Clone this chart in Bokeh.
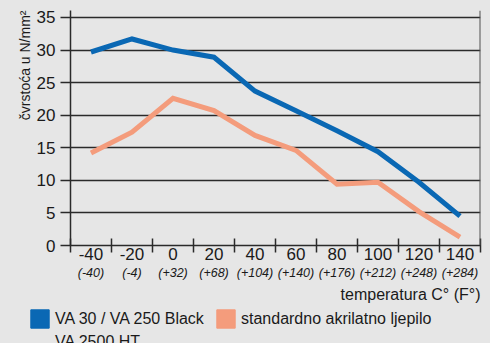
from bokeh.plotting import figure
from bokeh.layouts import column
from bokeh.models import (FixedTicker, LinearAxis, Span, Legend, LegendItem,
                          ColumnDataSource, Title)
from bokeh.embed import file_html
from bokeh.resources import INLINE

# ---- data ----
temps_c = [-40, -20, 0, 20, 40, 60, 80, 100, 120, 140]
temps_c_labels = ["-40", "-20", "0", "20", "40", "60", "80", "100", "120", "140"]
temps_f_labels = ["(-40)", "(-4)", "(+32)", "(+68)", "(+104)", "(+140)",
                  "(+176)", "(+212)", "(+248)", "(+284)"]
va30_strength = [29.7, 31.7, 30.0, 28.9, 23.7, 20.7, 17.6, 14.4, 9.7, 4.5]
acrylic_strength = [14.2, 17.4, 22.6, 20.7, 16.9, 14.6, 9.4, 9.7, 5.2, 1.3]
y_ticks = [0, 5, 10, 15, 20, 25, 30, 35]
series_names = ["VA 30 / VA 250 Black", "VA 2500 HT", "standardno akrilatno ljepilo"]
y_label = "čvrstoća u N/mm²"
x_label = "temperatura C° (F°)"

BG = "#e6e6e6"
BLUE = "#0a68b4"
ORANGE = "#f49c7c"
INK = "#1a1a1a"
GRID = "#2a2a2a"
FONT = "Liberation Sans"

step = temps_c[1] - temps_c[0]
boundaries = [t - step / 2 for t in temps_c] + [temps_c[-1] + step / 2]

p = figure(width=490, height=305,
           x_range=(boundaries[0], boundaries[-1]), y_range=(0, 36.07),
           output_backend="svg", toolbar_location=None,
           background_fill_color=BG, border_fill_color=BG,
           min_border_left=70, min_border_right=10, min_border_top=10,
           min_border_bottom=60, outline_line_color=None)

# y axis
p.yaxis.ticker = FixedTicker(ticks=y_ticks)
p.yaxis.major_tick_out = 10
p.yaxis.major_tick_in = 0
p.yaxis.minor_tick_line_color = None
p.yaxis.major_tick_line_color = GRID
p.yaxis.major_tick_line_width = 1.5
p.yaxis.axis_line_color = GRID
p.yaxis.axis_line_width = 1.5
p.yaxis.major_label_standoff = 5
p.yaxis.major_label_text_font = FONT
p.yaxis.major_label_text_font_size = "17px"
p.yaxis.major_label_text_color = INK

p.ygrid.ticker = FixedTicker(ticks=y_ticks)
p.ygrid.grid_line_color = GRID
p.ygrid.grid_line_width = 1.5
p.xgrid.grid_line_color = None

# x axis: C labels, boundary ticks as minor ticks
xa = p.xaxis[0]
xa.ticker = FixedTicker(ticks=temps_c, minor_ticks=boundaries)
xa.major_label_overrides = {t: s for t, s in zip(temps_c, temps_c_labels)}
xa.major_tick_line_color = None
xa.major_tick_in = 0
xa.major_tick_out = 0
xa.minor_tick_in = 7
xa.minor_tick_out = 7
xa.minor_tick_line_color = GRID
xa.minor_tick_line_width = 1.5
xa.axis_line_color = GRID
xa.axis_line_width = 1.5
xa.major_label_standoff = -5
xa.major_label_text_font = FONT
xa.major_label_text_font_size = "17px"
xa.major_label_text_color = INK

# second x axis: Fahrenheit labels
fa = LinearAxis(ticker=FixedTicker(ticks=temps_c),
                major_label_overrides={t: s for t, s in zip(temps_c, temps_f_labels)},
                axis_line_color=None, major_tick_line_color=None,
                minor_tick_line_color=None, major_tick_out=0, major_tick_in=0,
                major_label_standoff=3,
                major_label_text_font=FONT, major_label_text_font_size="12.5px",
                major_label_text_font_style="italic", major_label_text_color=INK)
p.add_layout(fa, "below")

# right border
p.add_layout(Span(location=boundaries[-1], dimension="height",
                  line_color="#505050", line_width=2))

# lines
src = ColumnDataSource(dict(x=temps_c, a=va30_strength, b=acrylic_strength))
p.line("x", "a", source=src, line_color=BLUE, line_width=5,
       line_join="miter", line_cap="butt")
p.line("x", "b", source=src, line_color=ORANGE, line_width=5,
       line_join="miter", line_cap="butt")

# axis titles
p.add_layout(Title(text=y_label, align="right", standoff=2,
                   text_font=FONT, text_font_size="14px", text_font_style="normal",
                   text_color=INK), "left")
p.add_layout(Title(text=x_label, align="right", standoff=2,
                   text_font=FONT, text_font_size="16px", text_font_style="normal",
                   text_color=INK), "below")

# legend strip (separate figure so it is not clipped); swatch renderers use the
# series data but lie outside this strip's ranges, so only the legend shows
lg = figure(width=490, height=38, output_backend="svg", toolbar_location=None,
            x_axis_type=None, y_axis_type=None, x_range=(1000, 1001),
            y_range=(1000, 1001),
            background_fill_color=BG, border_fill_color=BG, outline_line_color=None,
            min_border_left=26, min_border_right=0, min_border_top=0,
            min_border_bottom=0)
lg.xgrid.grid_line_color = None
lg.ygrid.grid_line_color = None

aligned_off = False
try:
    lg.frame_align = False
    p.frame_align = False
    aligned_off = True
except AttributeError:
    aligned_off = False

q1 = lg.quad(left="x", right="x", top="a", bottom="a", source=src,
             fill_color=BLUE, line_color=BLUE)
q2 = lg.quad(left="x", right="x", top="b", bottom="b", source=src,
             fill_color=ORANGE, line_color=ORANGE)
q_none = lg.quad(left=[], right=[], top=[], bottom=[],
                 fill_color=None, line_color=None)
legend = Legend(items=[LegendItem(label=series_names[0], renderers=[q1]),
                       LegendItem(label=series_names[1], renderers=[q_none]),
                       LegendItem(label=series_names[2], renderers=[q2])],
                nrows=2, location="top_left",
                glyph_width=23, glyph_height=23, label_standoff=4, spacing=0,
                label_width=159,
                padding=0, margin=2, border_line_color=None,
                background_fill_alpha=0,
                label_text_font=FONT, label_text_font_size="16px",
                label_text_color=INK, label_height=23)
lg.add_layout(legend, "center")

layout = column(p, lg, spacing=0)
html = file_html(layout, INLINE)
html = html.replace("<head>", "<head><style>body{background:#e6e6e6;}</style>", 1)
open("out.html", "w").write(html)
